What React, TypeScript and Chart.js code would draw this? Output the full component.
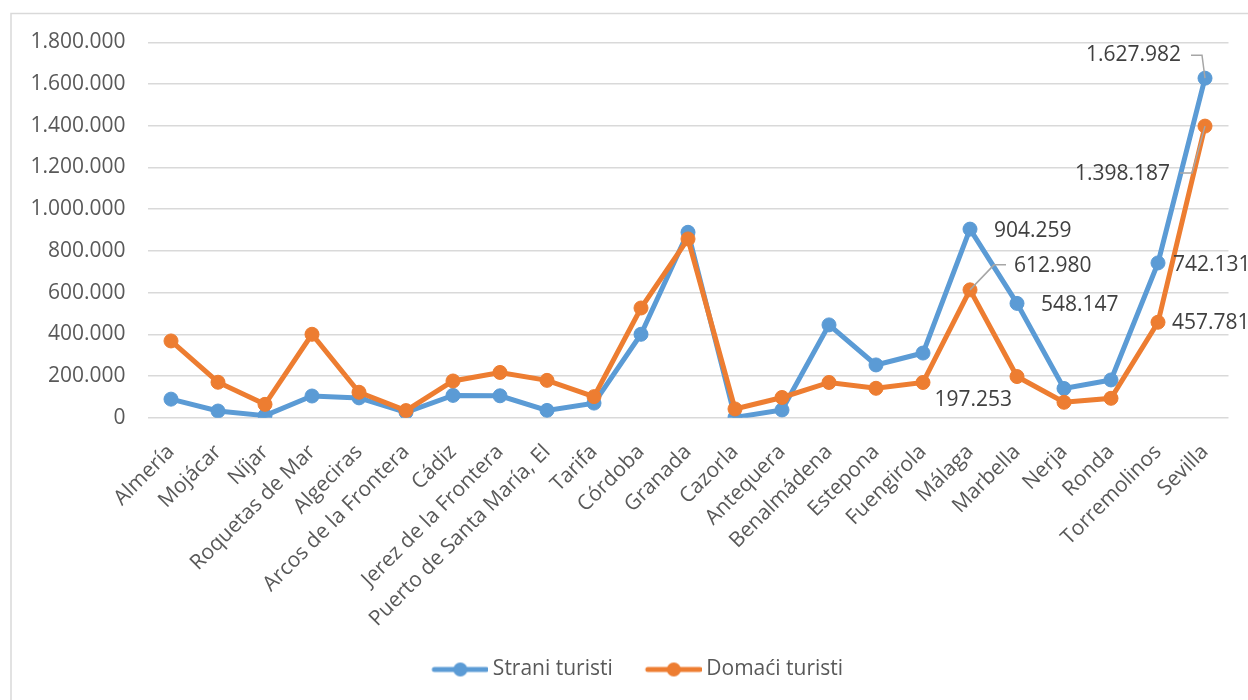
import { useEffect, useRef } from "react";
import { Chart, registerables } from "chart.js";

Chart.register(...registerables);

const categories = [
  "Almería", "Mojácar", "Níjar", "Roquetas de Mar", "Algeciras", "Arcos de la Frontera",
  "Cádiz", "Jerez de la Frontera", "Puerto de Santa María, El", "Tarifa", "Córdoba",
  "Granada", "Cazorla", "Antequera", "Benalmádena", "Estepona", "Fuengirola", "Málaga",
  "Marbella", "Nerja", "Ronda", "Torremolinos", "Sevilla",
];

const straniTuristi = [
  89000, 32000, 10000, 104000, 95000, 26000, 107000, 105000, 35000, 70000, 400000,
  889000, 1500, 37000, 445000, 253000, 310000, 904259, 548147, 140000, 181000, 742131, 1627982,
];

const domaciTuristi = [
  368000, 170000, 64000, 400000, 122000, 34000, 176000, 217000, 179000, 101000, 526000,
  857000, 42000, 97000, 169000, 141000, 169000, 612980, 197253, 74000, 93000, 457781, 1398187,
];

const seriesNames = ["Strani turisti", "Domaći turisti"];
const seriesColors = ["#5B9BD5", "#ED7D31"];

const yMin = 0;
const yMax = 1800000;
const yStep = 200000;

// indices of points that carry a value label, per series
const labeledStrani = [17, 18, 21, 22];
const labeledDomaci = [17, 18, 21, 22];

// label placement (style), relative to point pixel
type Placement = { dx: number; dy: number; align: CanvasTextAlign; leader?: number[][] };
const placementStrani: Record<number, Placement> = {
  17: { dx: 24, dy: 2, align: "left" },
  18: { dx: 24, dy: 2, align: "left" },
  21: { dx: 15, dy: 2, align: "left" },
  22: { dx: -24, dy: -23, align: "right", leader: [[-14, -23], [-3, -23], [0, 0]] },
};
const placementDomaci: Record<number, Placement> = {
  17: { dx: 44, dy: -24, align: "left", leader: [[36, -25], [24, -25], [0, 0]] },
  18: { dx: -5, dy: 23, align: "right" },
  21: { dx: 14, dy: 1, align: "left" },
  22: { dx: -35, dy: 48, align: "right", leader: [[-25, 47], [-13, 47], [0, 0]] },
};

const FONT = "'Open Sans', 'Noto Sans', sans-serif";
const TEXT = "#595959";
const GRID = "#D9D9D9";

function fmt(v: number): string {
  const s = Math.round(v).toString();
  return s.replace(/\B(?=(\d{3})+(?!\d))/g, ".");
}

function legendIcon(color: string): HTMLCanvasElement {
  const c = document.createElement("canvas");
  c.width = 85;
  c.height = 16;
  const ctx = c.getContext("2d")!;
  ctx.strokeStyle = color;
  ctx.lineWidth = 5;
  ctx.lineCap = "round";
  ctx.beginPath();
  ctx.moveTo(31, 8);
  ctx.lineTo(83, 8);
  ctx.stroke();
  ctx.fillStyle = color;
  ctx.beginPath();
  ctx.arc(57, 8, 7, 0, Math.PI * 2);
  ctx.fill();
  return c;
}

const PAD_LEFT = 24;
const PLOT_LEFT = 147.5;
const PLOT_BOTTOM = 417.7;
const PAD_BOTTOM = 10;

export default function App() {
  const ref = useRef<HTMLCanvasElement | null>(null);

  useEffect(() => {
    if (!ref.current) return;

    const frame = {
      id: "frame",
      beforeDraw(chart: any) {
        const ctx = chart.ctx;
        ctx.save();
        ctx.fillStyle = "#FFFFFF";
        ctx.fillRect(0, 0, chart.width, chart.height);
        ctx.strokeStyle = GRID;
        ctx.lineWidth = 1.5;
        ctx.strokeRect(11, 13.5, chart.width + 20, chart.height + 20);
        ctx.restore();
      },
    };

    const valueLabels = {
      id: "valueLabels",
      afterDatasetsDraw(chart: any) {
        const ctx = chart.ctx;
        const sets: [number[], Record<number, Placement>, number[]][] = [
          [labeledStrani, placementStrani, straniTuristi],
          [labeledDomaci, placementDomaci, domaciTuristi],
        ];
        ctx.save();
        sets.forEach(([idxs, place, values], ds) => {
          const meta = chart.getDatasetMeta(ds);
          idxs.forEach((i) => {
            const el = meta.data[i];
            const p = place[i];
            if (!el || !p) return;
            const x = el.x;
            const y = el.y;
            if (p.leader) {
              ctx.strokeStyle = "#A6A6A6";
              ctx.lineWidth = 1.5;
              ctx.beginPath();
              p.leader.forEach(([lx, ly], k) => {
                if (k === 0) ctx.moveTo(x + lx, y + ly);
                else ctx.lineTo(x + lx, y + ly);
              });
              ctx.stroke();
            }
            ctx.font = `21px ${FONT}`;
            ctx.fillStyle = "#404040";
            ctx.textAlign = p.align;
            ctx.textBaseline = "middle";
            ctx.fillText(fmt(values[i]), x + p.dx, y + p.dy);
          });
        });
        ctx.restore();
      },
    };

    const chart = new Chart(ref.current, {
      type: "line",
      data: {
        labels: categories,
        datasets: [
          {
            label: seriesNames[0],
            data: straniTuristi,
            borderColor: seriesColors[0],
            backgroundColor: seriesColors[0],
            borderWidth: 5,
            pointRadius: 7,
            pointBorderWidth: 1,
            pointBackgroundColor: seriesColors[0],
            pointBorderColor: seriesColors[0],
            tension: 0,
            order: 1,
          },
          {
            label: seriesNames[1],
            data: domaciTuristi,
            borderColor: seriesColors[1],
            backgroundColor: seriesColors[1],
            borderWidth: 5,
            pointRadius: 7,
            pointBorderWidth: 1,
            pointBackgroundColor: seriesColors[1],
            pointBorderColor: seriesColors[1],
            tension: 0,
            order: 0,
          },
        ],
      },
      options: {
        responsive: false,
        animation: false,
        devicePixelRatio: 1,
        layout: { padding: { top: 42.3, right: 19.5, left: PAD_LEFT, bottom: PAD_BOTTOM } },
        plugins: {
          tooltip: { enabled: false },
          legend: {
            position: "bottom",
            labels: {
              usePointStyle: true,
              pointStyleWidth: 73,
              padding: 10,
              color: TEXT,
              font: { family: FONT, size: 21 },
              sort: (a: any, b: any) => a.datasetIndex - b.datasetIndex,
              generateLabels: (c: any) => {
                const items = Chart.defaults.plugins.legend.labels.generateLabels(c);
                return items
                  .sort((a: any, b: any) => a.datasetIndex - b.datasetIndex)
                  .map((it: any) => ({
                    ...it,
                    pointStyle: legendIcon(seriesColors[it.datasetIndex]),
                  }));
              },
            },
          },
        },
        scales: {
          x: {
            offset: true,
            grid: { display: false, drawTicks: false },
            border: { display: false },
            ticks: {
              autoSkip: false,
              maxRotation: 45,
              minRotation: 45,
              padding: 22,
              color: TEXT,
              font: { family: FONT, size: 21 },
            },
            afterFit: (scale: any) => {
              const lh = scale.chart.legend ? scale.chart.legend.height : 54;
              scale.height = scale.chart.height - PLOT_BOTTOM - lh - PAD_BOTTOM;
            },
          },
          y: {
            min: yMin,
            max: yMax,
            grid: { color: GRID, lineWidth: 1.5, drawTicks: false },
            border: { display: false },
            ticks: {
              stepSize: yStep,
              padding: 22,
              color: TEXT,
              font: { family: FONT, size: 21 },
              callback: (v: any) => fmt(Number(v)),
            },
            afterFit: (scale: any) => {
              scale.width = PLOT_LEFT - PAD_LEFT;
            },
          },
        },
      },
      plugins: [frame, valueLabels],
    } as any);

    return () => chart.destroy();
  }, []);

  return (
    <div style={{ position: "fixed", left: 0, top: 0, width: 1248, height: 700, background: "#fff" }}>
      <canvas ref={ref} width={1248} height={700} style={{ width: 1248, height: 700, display: "block" }} />
    </div>
  );
}
